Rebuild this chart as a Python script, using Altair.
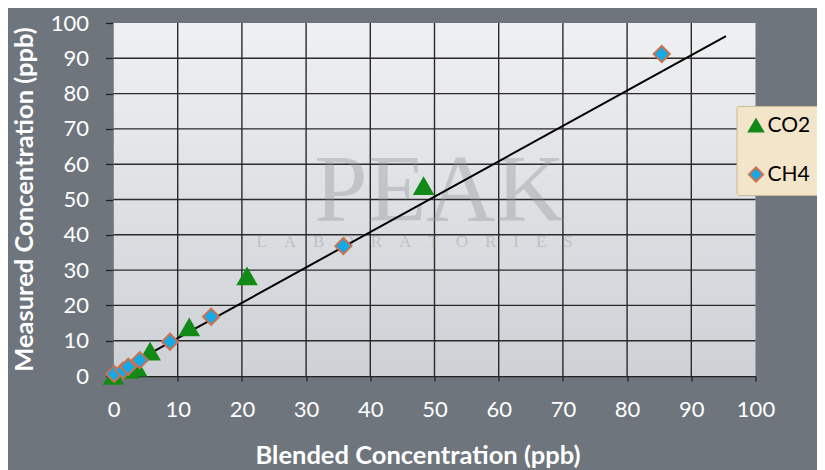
import altair as alt
import pandas as pd

# --- data ---
co2_x = [0.0, 2.3, 3.6, 5.7, 11.8, 20.8, 48.3]
co2_y = [0.0, 1.7, 2.4, 6.9, 13.8, 28.2, 53.8]
ch4_x = [0.1, 1.5, 2.3, 4.1, 8.8, 15.2, 35.8, 85.4]
ch4_y = [0.6, 1.6, 2.6, 4.5, 9.7, 16.8, 36.8, 91.2]
fit_x = [1.3, 95.4]
fit_y = [2.0, 96.3]
series = ["CO2", "CH4"]
ticks = list(range(0, 101, 10))
grid_vals = list(range(10, 100, 10))
wm_text = ["PEAK", "\u2003".join("LABORATORIES")]
wm_x = [50.8, 46.9]
wm_y = [52.0, 38.0]

FONT = "Lato"
BG = "#6e757d"
W, H = 642, 353

pts = pd.DataFrame(
    {"x": co2_x + ch4_x, "y": co2_y + ch4_y,
     "series": ["CO2"] * len(co2_x) + ["CH4"] * len(ch4_x)}
)
fit = pd.DataFrame({"x": fit_x, "y": fit_y})
wm = pd.DataFrame({"t": wm_text, "x": wm_x, "y": wm_y, "size": [96, 17]})
gd = pd.DataFrame({"v": grid_vals})

xs = alt.Scale(domain=[0, 100], nice=False, zero=False)
ys = alt.Scale(domain=[0, 100], nice=False, zero=False)

xaxis = alt.Axis(values=ticks, title="Blended Concentration (ppb)", grid=False,
                 tickSize=5, labelPadding=18, titleX=304, titleY=79,
                 titleBaseline="middle", titleAlign="center",
                 labelOverlap=False, labelFlush=False)
yaxis = alt.Axis(values=ticks, title="Measured Concentration (ppb)", grid=False,
                 tickSize=8, labelPadding=17, titleX=-89, titleY=176,
                 titleAngle=270, titleBaseline="middle", titleAlign="center",
                 labelOverlap=False, labelFlush=False)

bgrect = alt.Chart(pd.DataFrame({"a": [0]})).mark_rect(
    color=alt.Gradient(gradient="linear",
                       stops=[alt.GradientStop(color="#eff0f2", offset=0),
                              alt.GradientStop(color="#cdd1d5", offset=1)],
                       x1=0, x2=0, y1=0, y2=1)
).encode(x=alt.value(0), x2=alt.value(W), y=alt.value(0), y2=alt.value(H))

vgrid = alt.Chart(gd).mark_rule(color="#2a2a2a", strokeWidth=1.4).encode(
    x=alt.X("v:Q", scale=xs, axis=xaxis))
hgrid = alt.Chart(gd).mark_rule(color="#2a2a2a", strokeWidth=1.4).encode(
    y=alt.Y("v:Q", scale=ys, axis=yaxis))

watermark = alt.Chart(wm).mark_text(
    font="Liberation Serif", color="#8f9296", opacity=0.36
).encode(
    x=alt.X("x:Q", scale=xs, axis=xaxis), y=alt.Y("y:Q", scale=ys, axis=yaxis), text="t:N",
    size=alt.Size("size:Q", scale=None, legend=None),
)

line = alt.Chart(fit).mark_line(color="black", strokeWidth=2).encode(
    x=alt.X("x:Q", scale=xs, axis=xaxis), y=alt.Y("y:Q", scale=ys, axis=yaxis)
)

leg = alt.Legend(title=None, orient="none", legendX=623, legendY=83,
                 fillColor="#f3e5c9", strokeColor="#cbb894", padding=9,
                 cornerRadius=2, rowPadding=27, symbolSize=200,
                 symbolStrokeWidth=2, labelFontSize=21, labelFont=FONT,
                 labelColor="black", labelOffset=1)

points = alt.Chart(pts).mark_point(filled=True, opacity=1, strokeWidth=2).encode(
    x=alt.X("x:Q", scale=xs, axis=xaxis), y=alt.Y("y:Q", scale=ys, axis=yaxis),
    shape=alt.Shape("series:N", scale=alt.Scale(domain=series, range=["triangle-up", "diamond"]), legend=leg),
    fill=alt.Fill("series:N", scale=alt.Scale(domain=series, range=["#138a17", "#16a9e6"]), legend=leg),
    stroke=alt.Stroke("series:N", scale=alt.Scale(domain=series, range=["#138a17", "#c8724f"]), legend=leg),
    size=alt.condition(alt.datum.series == "CO2", alt.value(330), alt.value(260)),
)

chart = alt.layer(bgrect, vgrid, hgrid, watermark, line, points).properties(
    width=W, height=H,
    autosize=alt.AutoSizeParams(type="none"),
    padding={"left": 105.5, "top": 15, "right": 61.5, "bottom": 94},
    background=BG,
).configure_view(stroke=None).configure_axis(
    labelFont=FONT, labelFontSize=22, labelColor="white",
    titleFont=FONT, titleFontSize=25.5, titleFontWeight="bold", titleColor="white",
    domainColor="#222", domainWidth=1.5, tickColor="#222", tickWidth=1.3,
    labelOverlap=False, labelFlush=False,
)

chart.save("out.html", embed_options={"renderer": "svg", "actions": False})
